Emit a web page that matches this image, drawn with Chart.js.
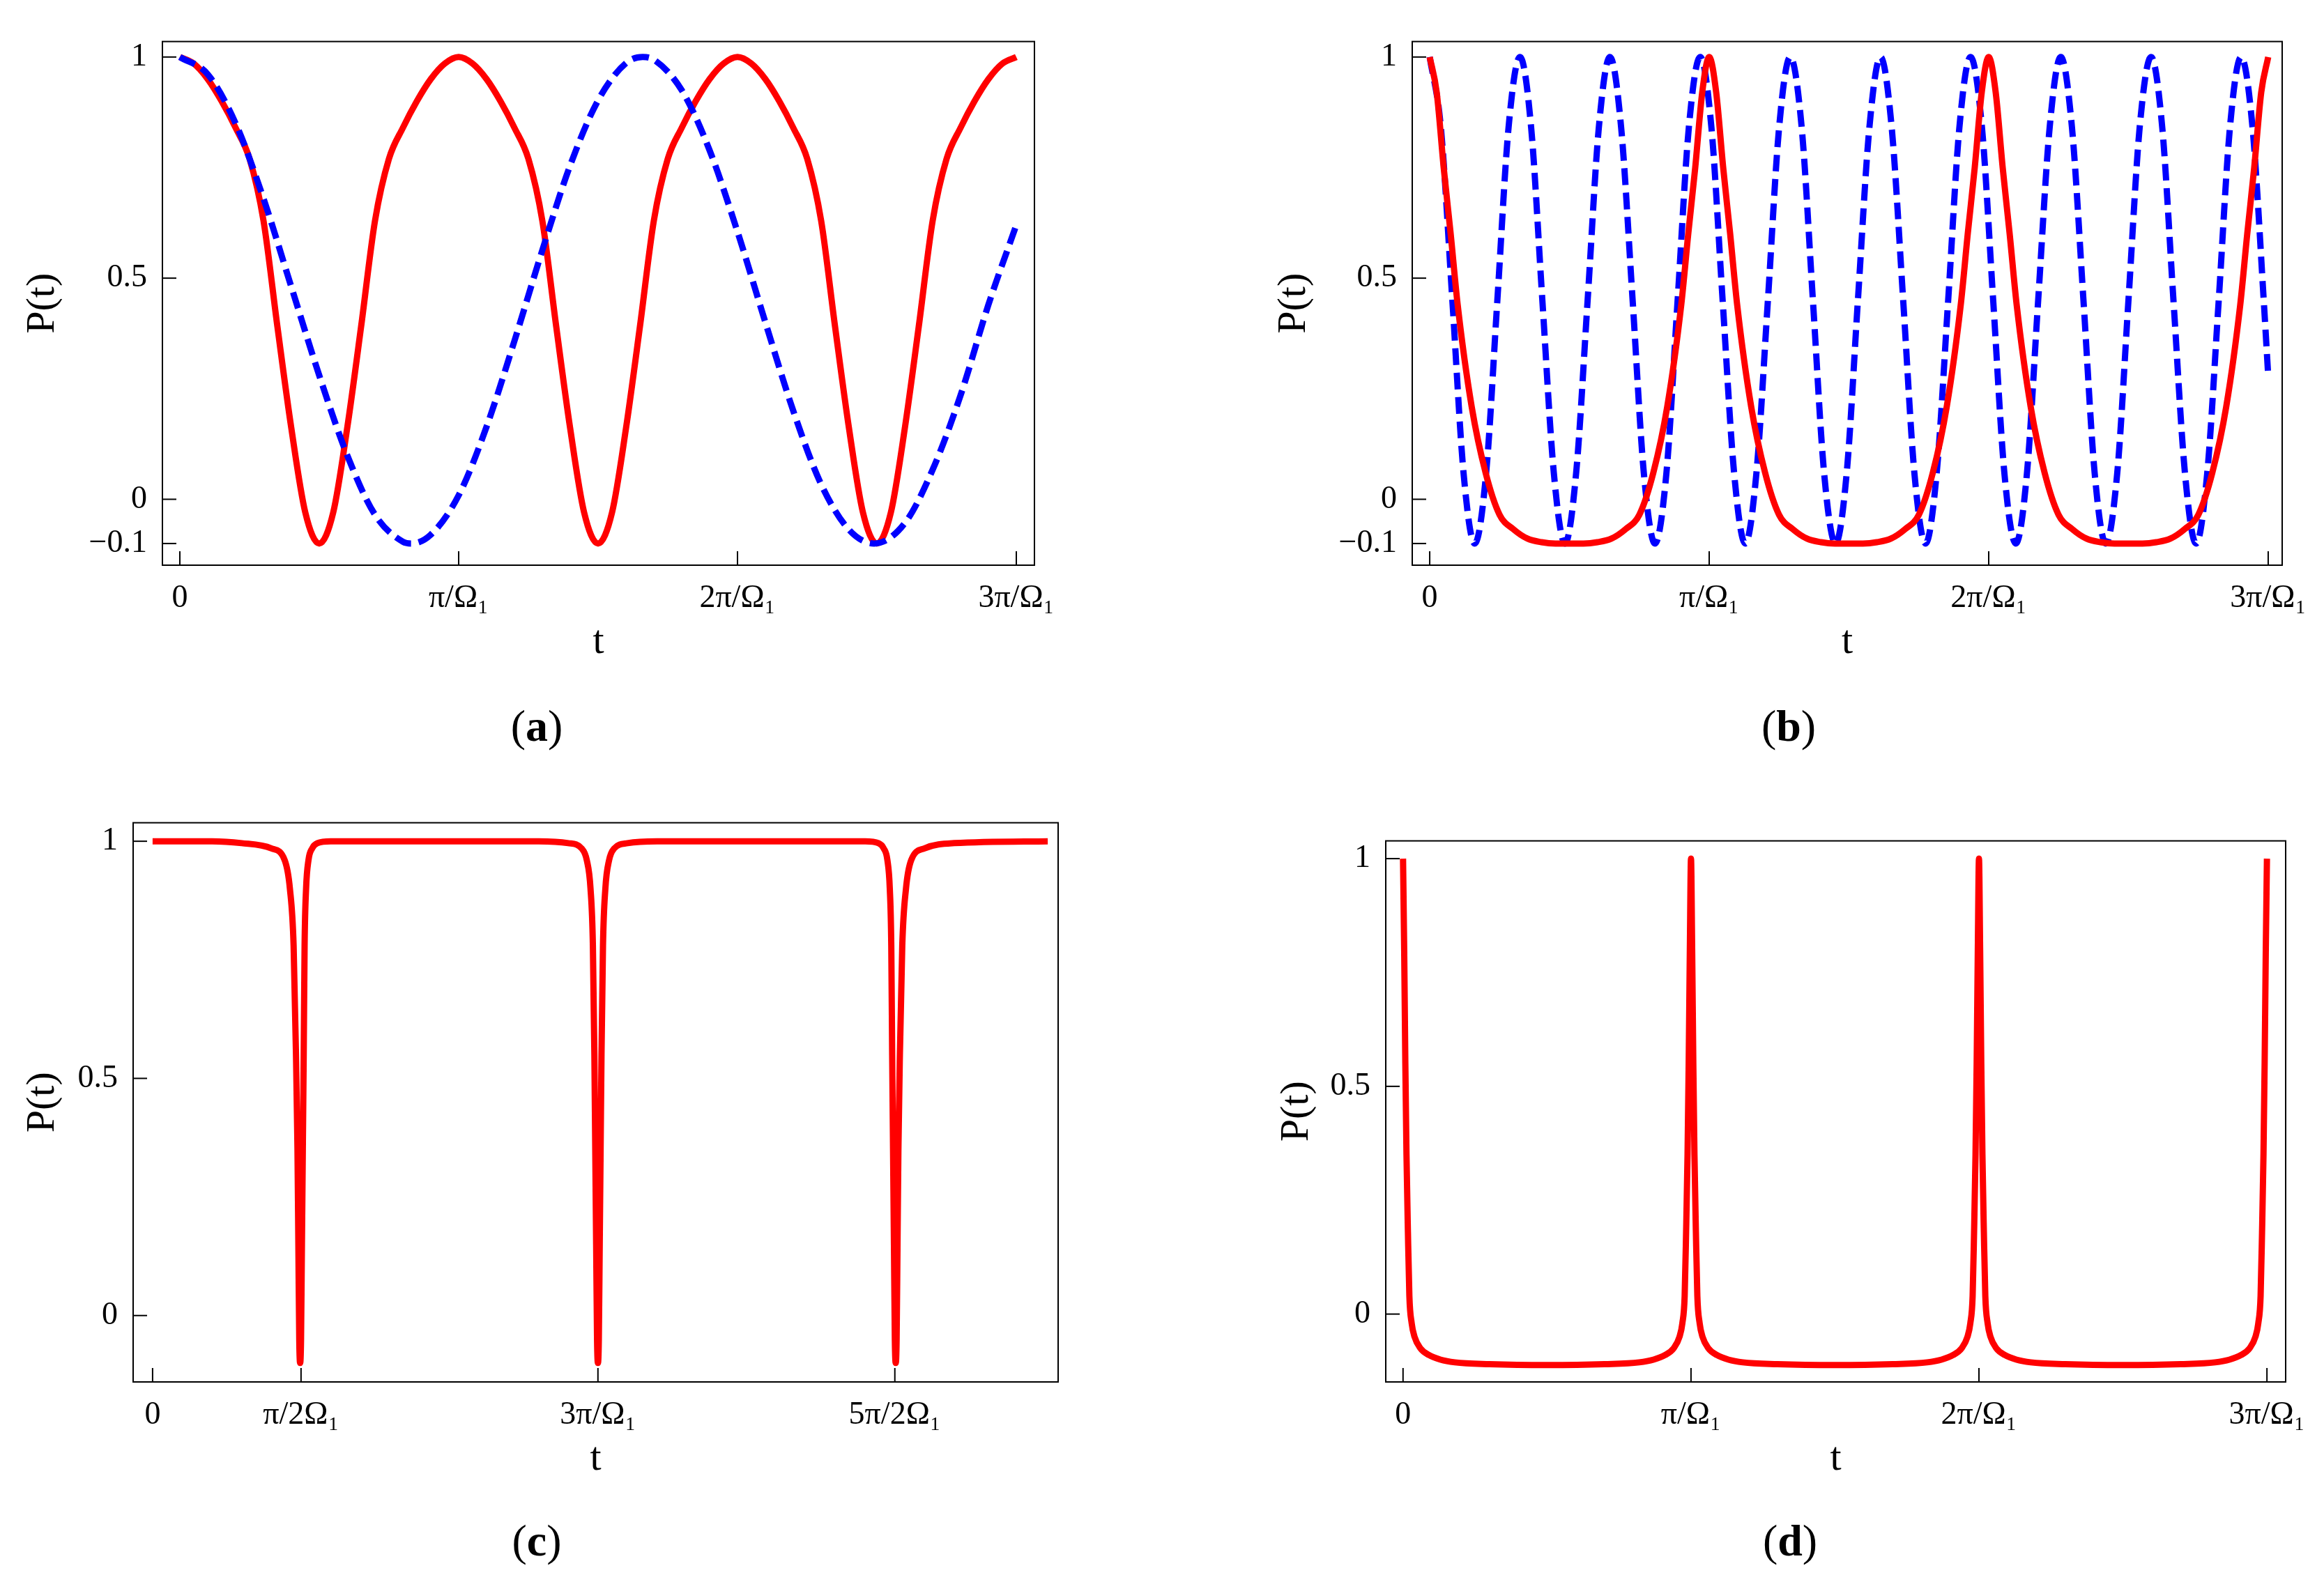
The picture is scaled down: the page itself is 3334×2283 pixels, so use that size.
<!DOCTYPE html>
<html>
<head>
<meta charset="utf-8">
<script src="https://cdn.jsdelivr.net/npm/chart.js@4"></script>
<style>
  body { margin: 0; width: 3334px; height: 2283px; background: #fff; position: relative; overflow: hidden; }
  canvas { position: absolute; }
  .lab { position: absolute; font-family: "Liberation Serif", serif; font-size: 64px; transform: translate(-50%, -50%); }
</style>
</head>
<body>
<canvas id="ca"></canvas>
<canvas id="cb"></canvas>
<canvas id="cc"></canvas>
<canvas id="cd"></canvas>
<div class="lab" style="left:770px;top:1042px">(<b>a</b>)</div>
<div class="lab" style="left:2566px;top:1042px">(<b>b</b>)</div>
<div class="lab" style="left:770px;top:2211px">(<b>c</b>)</div>
<div class="lab" style="left:2568px;top:2211px">(<b>d</b>)</div>
<script>
// time in units of pi/Omega_1 (panel c: units of pi/2Omega_1)

// panel (a)
const tRedA = [0,.05,.1,.15,.2,.25,.3,.35,.4,.45,.5,.55,.6,.65,.7,.75,.8,.85,.9,.95,
  1,1.05,1.1,1.15,1.2,1.25,1.3,1.35,1.4,1.45,1.5,1.55,1.6,1.65,1.7,1.75,1.8,1.85,1.9,1.95,
  2,2.05,2.1,2.15,2.2,2.25,2.3,2.35,2.4,2.45,2.5,2.55,2.6,2.65,2.7,2.75,2.8,2.85,2.9,2.95,3];
const pRedA = [1,.985,.95,.9,.84,.77,.63,.39,.16,-.03,-.1,-.03,.16,.39,.63,.77,.84,.9,.95,.985,
  1,.985,.95,.9,.84,.77,.63,.39,.16,-.03,-.1,-.03,.16,.39,.63,.77,.84,.9,.95,.985,
  1,.985,.95,.9,.84,.77,.63,.39,.16,-.03,-.1,-.03,.16,.39,.63,.77,.84,.9,.95,.985,1];
const tBlueA = [0,.1,.2,.3,.4,.5,.6,.7,.8,.83,.9,1,1.1,1.2,1.3,1.4,1.5,1.6,1.66,1.7,1.8,1.9,
  2,2.1,2.2,2.3,2.4,2.49,2.6,2.7,2.8,2.9,3];
const pBlueA = [1,.961,.85,.68,.48,.28,.1,-.035,-.096,-.1,-.08,.009,.164,.358,.563,.755,.902,.986,1,.994,.925,.789,
  .605,.40,.20,.034,-.069,-.1,-.054,.067,.235,.44,.62];

// panel (b)
const tRedB = [0,.025,.05,.075,.1,.15,.2,.25,.3,.35,.4,.45,.5,.55,.6,.65,.7,.75,.8,.85,.9,.925,.95,.975,
  1,1.025,1.05,1.075,1.1,1.15,1.2,1.25,1.3,1.35,1.4,1.45,1.5,1.55,1.6,1.65,1.7,1.75,1.8,1.85,1.9,1.925,1.95,1.975,
  2,2.025,2.05,2.075,2.1,2.15,2.2,2.25,2.3,2.35,2.4,2.45,2.5,2.55,2.6,2.65,2.7,2.75,2.8,2.85,2.9,2.925,2.95,2.975,3];
const pRedB = [1,.92,.75,.6,.44,.21,.06,-.035,-.068,-.089,-.097,-.1,-.1,-.1,-.097,-.089,-.068,-.035,.06,.21,.44,.6,.75,.92,
  1,.92,.75,.6,.44,.21,.06,-.035,-.068,-.089,-.097,-.1,-.1,-.1,-.097,-.089,-.068,-.035,.06,.21,.44,.6,.75,.92,
  1,.92,.75,.6,.44,.21,.06,-.035,-.068,-.089,-.097,-.1,-.1,-.1,-.097,-.089,-.068,-.035,.06,.21,.44,.6,.75,.92,1];
const tBlueB = [0,.040,.081,.121,.161,.202,.242,.282,.323,.363,.403,.444,.484,.524,.565,.605,
  .645,.685,.726,.766,.806,.847,.887,.927,.968,1.008,1.048,1.089,1.129,1.169,1.210,1.250,
  1.290,1.331,1.371,1.411,1.452,1.492,1.532,1.573,1.613,1.653,1.694,1.734,1.774,1.814,1.855,1.895,
  1.935,1.976,2.016,2.056,2.097,2.137,2.177,2.218,2.258,2.298,2.339,2.379,2.419,2.460,2.500,2.540,
  2.581,2.621,2.661,2.702,2.742,2.782,2.823,2.863,2.903,2.944,2.984,3];
const pBlueB = [1,.84,.45,.06,-.1,.06,.45,.84,1,.84,.45,.06,-.1,.06,.45,.84,
  1,.84,.45,.06,-.1,.06,.45,.84,1,.84,.45,.06,-.1,.06,.45,.84,
  1,.84,.45,.06,-.1,.06,.45,.84,1,.84,.45,.06,-.1,.06,.45,.84,
  1,.84,.45,.06,-.1,.06,.45,.84,1,.84,.45,.06,-.1,.06,.45,.84,
  1,.84,.45,.06,-.1,.06,.45,.84,1,.84,.45,.28];

// panel (c)
const tC = [0,.4,.6,.8,.89,.925,.95,.966,.976,.982,.988,.994,1,1.006,1.012,1.018,1.024,1.034,1.05,1.075,1.11,1.2,1.4,
  2,2.6,2.8,2.89,2.925,2.95,2.966,2.976,2.982,2.988,2.994,3,3.006,3.012,3.018,3.024,3.034,3.05,3.075,3.11,3.2,3.4,
  4,4.6,4.8,4.89,4.925,4.95,4.966,4.976,4.982,4.988,4.994,5,5.006,5.012,5.018,5.024,5.034,5.05,5.075,5.11,5.2,5.4,6.03];
const pC = [1,1,.996,.985,.96,.9,.78,.55,.35,.15,-.05,-.1,-.05,.15,.35,.55,.78,.9,.96,.985,.996,1,1,
  1,1,.996,.985,.96,.9,.78,.55,.35,.15,-.05,-.1,-.05,.15,.35,.55,.78,.9,.96,.985,.996,1,1,
  1,1,.996,.985,.96,.9,.78,.55,.35,.15,-.05,-.1,-.05,.15,.35,.55,.78,.9,.96,.985,.996,1,1];
// remove duplicated sample (1.4 listed twice above is fine for x, keeps line flat)

// panel (d)
const tD = [0,.004,.008,.012,.017,.022,.03,.04,.06,.09,.13,.18,.3,.5,.7,.82,.87,.91,.94,.96,.97,.978,.983,.988,.992,.996,
  1,1.004,1.008,1.012,1.017,1.022,1.03,1.04,1.06,1.09,1.13,1.18,1.3,1.5,1.7,1.82,1.87,1.91,1.94,1.96,1.97,1.978,1.983,1.988,1.992,1.996,
  2,2.004,2.008,2.012,2.017,2.022,2.03,2.04,2.06,2.09,2.13,2.18,2.3,2.5,2.7,2.82,2.87,2.91,2.94,2.96,2.97,2.978,2.983,2.988,2.992,2.996,3];
const pD = [1,.8,.55,.35,.18,.04,-.02,-.05,-.075,-.09,-.1,-.106,-.11,-.112,-.11,-.106,-.1,-.09,-.075,-.05,-.02,.04,.18,.35,.55,.8,
  1,.8,.55,.35,.18,.04,-.02,-.05,-.075,-.09,-.1,-.106,-.11,-.112,-.11,-.106,-.1,-.09,-.075,-.05,-.02,.04,.18,.35,.55,.8,
  1,.8,.55,.35,.18,.04,-.02,-.05,-.075,-.09,-.1,-.106,-.11,-.112,-.11,-.106,-.1,-.09,-.075,-.05,-.02,.04,.18,.35,.55,.8,1];

const xTicks3 = [0, 1, 2, 3];
const xLabels3 = ["0", "π/Ω₁", "2π/Ω₁", "3π/Ω₁"];
const xTicksC = [0, 1, 3, 5];
const xLabelsC = ["0", "π/2Ω₁", "3π/Ω₁", "5π/2Ω₁"];
const yTicksAB = [-0.1, 0, 0.5, 1];
const yLabelsAB = ["−0.1", "0", "0.5", "1"];
const yTicksCD = [0, 0.5, 1];
const yLabelsCD = ["0", "0.5", "1"];

const FONT = "Liberation Serif";
const XH = 146, PT = 20, PR = 90;

const frame = {
    id: "frame",
    afterDraw(chart) {
        const a = chart.chartArea, ctx = chart.ctx;
        ctx.save();
        ctx.strokeStyle = "#000";
        ctx.lineWidth = 2;
        ctx.strokeRect(a.left, a.top, a.right - a.left, a.bottom - a.top);
        chart.scales.x.ticks.forEach(t => {
            const px = chart.scales.x.getPixelForValue(t.value);
            ctx.beginPath(); ctx.moveTo(px, a.bottom); ctx.lineTo(px, a.bottom - 20); ctx.stroke();
        });
        chart.scales.y.ticks.forEach(t => {
            const py = chart.scales.y.getPixelForValue(t.value);
            ctx.beginPath(); ctx.moveTo(a.left, py); ctx.lineTo(a.left + 20, py); ctx.stroke();
        });
        ctx.restore();
    }
};

function pts(ts, ps) {
    return ts.map((t, i) => ({ x: t, y: ps[i] }));
}

function makePanel(id, box, yw, xr, yr, xt, xl, yt, yl, sets) {
    const cv = document.getElementById(id);
    const w = box.r - box.l + yw + PR, h = box.b - box.t + PT + XH;
    cv.width = w; cv.height = h;
    cv.style.left = (box.l - yw) + "px";
    cv.style.top = (box.t - PT) + "px";
    new Chart(cv, {
        type: "line",
        data: { datasets: sets },
        options: {
            responsive: false,
            animation: false,
            devicePixelRatio: 1,
            layout: { padding: { top: PT, right: PR, left: 0, bottom: 0 } },
            plugins: { legend: { display: false }, tooltip: { enabled: false } },
            elements: { point: { radius: 0 } },
            scales: {
                x: {
                    type: "linear", min: xr[0], max: xr[1],
                    grid: { display: false }, border: { display: false },
                    afterBuildTicks: s => { s.ticks = xt.map(v => ({ value: v })); },
                    afterFit: s => { s.height = XH; },
                    ticks: {
                        padding: 12, color: "#000", maxRotation: 0, autoSkip: false,
                        font: { family: FONT, size: 46 },
                        callback: (v) => xl[xt.indexOf(v)]
                    },
                    title: { display: true, text: "t", color: "#000", padding: 0, font: { family: FONT, size: 58 } }
                },
                y: {
                    min: yr[0], max: yr[1],
                    grid: { display: false }, border: { display: false },
                    afterBuildTicks: s => { s.ticks = yt.map(v => ({ value: v })); },
                    afterFit: s => { s.width = yw; },
                    ticks: {
                        padding: 14, color: "#000",
                        font: { family: FONT, size: 46 },
                        callback: (v) => yl[yt.indexOf(v)]
                    },
                    title: { display: true, text: "P(t)", color: "#000", padding: 0, font: { family: FONT, size: 58 } }
                }
            }
        },
        plugins: [frame]
    });
}

const red = (d) => ({ data: d, borderColor: "#ff0000", borderWidth: 9, cubicInterpolationMode: "monotone", fill: false });
const blue = (d) => ({ data: d, borderColor: "#0000ff", borderWidth: 9, borderDash: [24, 11], cubicInterpolationMode: "monotone", fill: false });

makePanel("ca", { l: 233, r: 1484, t: 38, b: 811 }, 206, [-0.0625, 3.065], [-0.149, 1.035],
    xTicks3, xLabels3, yTicksAB, yLabelsAB,
    [blue(pts(tBlueA, pBlueA)), red(pts(tRedA, pRedA))]);

makePanel("cb", { l: 2026, r: 3274, t: 38, b: 811 }, 204, [-0.0625, 3.05], [-0.149, 1.035],
    xTicks3, xLabels3, yTicksAB, yLabelsAB,
    [red(pts(tRedB, pRedB)), blue(pts(tBlueB, pBlueB))]);

makePanel("cc", { l: 191, r: 1518, t: 1159, b: 1983 }, 164, [-0.131, 6.1], [-0.14, 1.039],
    xTicksC, xLabelsC, yTicksCD, yLabelsCD,
    [red(pts(tC, pC))]);

makePanel("cd", { l: 1988, r: 3279, t: 1185, b: 1983 }, 162, [-0.06, 3.065], [-0.149, 1.039],
    xTicks3, xLabels3, yTicksCD, yLabelsCD,
    [red(pts(tD, pD))]);
</script>
</body>
</html>
